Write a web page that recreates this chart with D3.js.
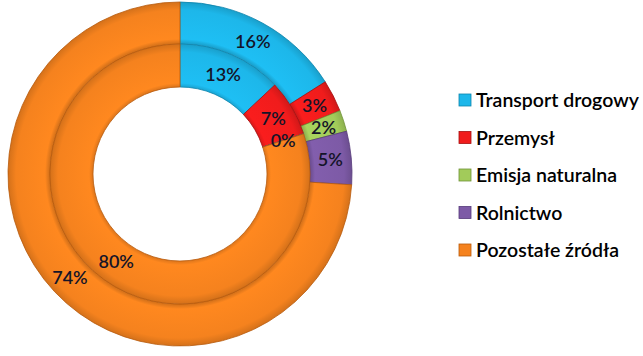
<!DOCTYPE html>
<html><head><meta charset="utf-8">
<script src="https://cdn.jsdelivr.net/npm/d3@7"></script>
<style>html,body{margin:0;padding:0;background:#fff;}svg{display:block;}</style>
</head><body><svg id="c" width="643" height="356"></svg>
<script>
const categories = ["Transport drogowy","Przemysł","Emisja naturalna","Rolnictwo","Pozostałe źródła"];
const outerValues = [16,3,2,5,74];
const innerValues = [13,7,0,0,80];
const colors = ["#1DB7EA","#F01C1C","#A2CB5A","#7D5AA6","#F5821E"];
const edges = ["#0E84AC","#A50F0F","#6E9236","#55397A","#B85A0C"];

const svg = d3.select("#c");
const cx = 180, cy = 174;
const R_out = 172, R_mid = 130, R_in = 87;

const defs = svg.append("defs");
colors.forEach((c,i)=>{
  const g = defs.append("radialGradient").attr("id","g"+i)
    .attr("gradientUnits","userSpaceOnUse").attr("cx",0).attr("cy",0).attr("r",R_out);
  const base = d3.color(c);
  const st = (r,col)=>g.append("stop").attr("offset",(r/R_out*100)+"%").attr("stop-color",col);
  st(0, base.formatHex());
  st(R_in, base.darker(0.3).formatHex());
  st(R_in+4, base.brighter(0.12).formatHex());
  st(R_mid-8, base.formatHex());
  st(R_mid-1, base.darker(0.35).formatHex());
  st(R_mid+1, base.darker(0.35).formatHex());
  st(R_mid+5, base.brighter(0.12).formatHex());
  st(R_out-8, base.formatHex());
  st(R_out, base.darker(0.4).formatHex());
});

const pie = d3.pie().sort(null).value(d=>d);
const g = svg.append("g").attr("transform",`translate(${cx},${cy})`);

function ring(values, r0, r1, cls){
  const arc = d3.arc().innerRadius(r0).outerRadius(r1);
  const arcs = pie(values);
  g.selectAll("path."+cls).data(arcs).join("path").attr("class",cls)
    .attr("d",arc)
    .attr("fill",(d,i)=>`url(#g${i})`)
    .attr("stroke",(d,i)=>edges[i]).attr("stroke-width",0.8);
  const lab = d3.arc().innerRadius((r0+r1)/2).outerRadius((r0+r1)/2);
  g.selectAll("text."+cls).data(arcs).join("text").attr("class",cls)
    .attr("transform",d=>`translate(${lab.centroid(d)})`)
    .attr("text-anchor","middle").attr("dy","0.36em")
    .attr("font-family","Lato, 'Open Sans', sans-serif").attr("font-size",18).attr("font-weight",600)
    .attr("fill","#141428")
    .text((d,i)=> (cls==="inner" && i===3) ? "" : d.data+"%");
}
ring(outerValues, R_mid, R_out, "outer");
ring(innerValues, R_in, R_mid, "inner");

const leg = svg.append("g").attr("transform","translate(459,0)");
const ys = d3.scalePoint().domain(categories).range([100,250]);
categories.forEach((c,i)=>{
  const y = ys(c);
  leg.append("rect").attr("x",0).attr("y",y-6).attr("width",12).attr("height",12)
    .attr("fill",colors[i]).attr("stroke",edges[i]).attr("stroke-width",0.8);
  leg.append("text").attr("x",17).attr("y",y).attr("dy","0.36em")
    .attr("font-family","Lato, 'Open Sans', sans-serif").attr("font-size",19.5).attr("font-weight",600)
    .attr("fill","#000").text(c);
});
</script></body></html>
